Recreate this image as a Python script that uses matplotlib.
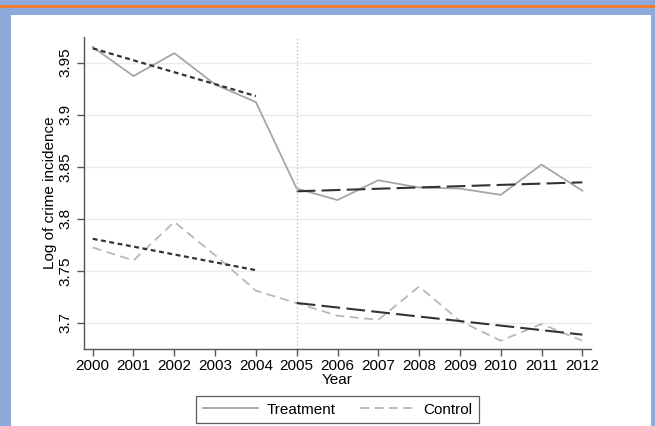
import numpy as np
import matplotlib
matplotlib.use("Agg")
import matplotlib.pyplot as plt
from matplotlib.patches import Rectangle

plt.rcParams['font.family'] = ['Liberation Sans', 'DejaVu Sans']

# data
years = list(range(2000, 2013))
treatment = [3.965, 3.937, 3.959, 3.929, 3.912, 3.829, 3.818, 3.837, 3.830, 3.829, 3.823, 3.852, 3.827]
control = [3.7725, 3.760, 3.797, 3.765, 3.731, 3.719, 3.707, 3.703, 3.735, 3.702, 3.683, 3.699, 3.683]

# trend lines (end points)
pre_years = [2000, 2004]
post_years = [2005, 2012]
treat_pre = [3.9636, 3.9178]
treat_post = [3.8264, 3.8350]
ctrl_pre = [3.7808, 3.7507]
ctrl_post = [3.7192, 3.6888]

yticks = [3.7, 3.75, 3.8, 3.85, 3.9, 3.95]
ytick_labels = ['3.7', '3.75', '3.8', '3.85', '3.9', '3.95']

fig = plt.figure(figsize=(6.55, 4.26), dpi=100, facecolor='#8eaadb')
# white panel and orange rule
fig.patches.append(Rectangle((11/655, 0), 640/655, (426-15)/426, transform=fig.transFigure,
                             facecolor='white', edgecolor='none', zorder=-5))
fig.patches.append(Rectangle((0, (426-7.5)/426), 1, 2.5/426, transform=fig.transFigure,
                             facecolor='#ed7d31', edgecolor='none', zorder=-5))

ax = fig.add_axes([84/655, (426-348.5)/426, (591-84)/655, (348.5-36.7)/426])
ax.set_facecolor('none')

l1, = ax.plot(years, treatment, color='#a6a6a6', lw=1.3, label='Treatment')
l2, = ax.plot(years, control, color='#b8b8b8', lw=1.3, dashes=(5, 3), label='Control')
ax.plot(pre_years, treat_pre, color='#333333', lw=1.6, dashes=(2.2, 1.6))
ax.plot(pre_years, ctrl_pre, color='#333333', lw=1.6, dashes=(2.2, 1.6))
ax.plot(post_years, treat_post, color='#333333', lw=1.5, dashes=(9, 3))
ax.plot(post_years, ctrl_post, color='#333333', lw=1.5, dashes=(9, 3))

ax.axvline(2005, color='#c0c0c0', lw=1, ls=':')

ax.set_xlim(1999.787, 2012.213)
ax.set_ylim(3.6755, 3.9748)
ax.set_xticks(years)
ax.set_yticks(yticks)
ax.set_yticklabels(ytick_labels, rotation=90, va='center')
ax.yaxis.grid(True, color='#ebebeb', lw=1)
ax.set_axisbelow(True)

for s in ['top', 'right']:
    ax.spines[s].set_visible(False)
for s in ['left', 'bottom']:
    ax.spines[s].set_color('#555555')
    ax.spines[s].set_linewidth(1)
ax.tick_params(axis='both', labelsize=11, length=5, width=1, color='#555555', labelcolor='black', pad=2.5)
ax.tick_params(axis='y', pad=3)

ax.set_xlabel('Year', fontsize=11, labelpad=0, color='black')
ax.set_ylabel('Log of crime incidence', fontsize=11, labelpad=1.5, color='black')

leg = fig.legend(handles=[l1, l2], loc='center', bbox_to_anchor=(337.5/655, (426-409.5)/426),
                 ncol=2, fontsize=11, frameon=True, fancybox=False, handlelength=3.6,
                 handletextpad=0.55, columnspacing=1.6, borderpad=0.45)
leg.get_frame().set_edgecolor('#333333')
leg.get_frame().set_linewidth(0.9)

fig.savefig('out.png', dpi=100, facecolor=fig.get_facecolor())
